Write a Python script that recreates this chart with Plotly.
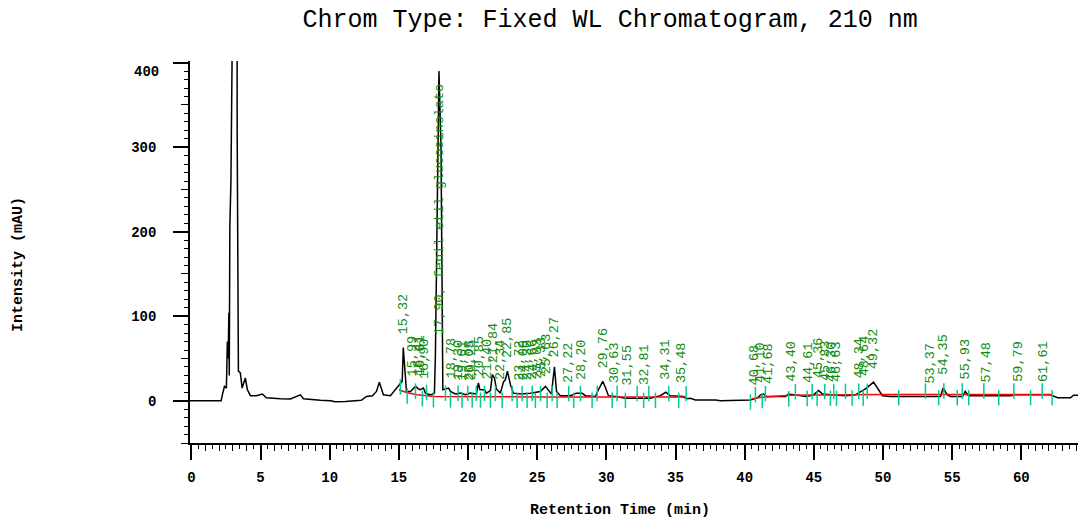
import numpy as np
import plotly.graph_objects as go

# ---------------- data ----------------
time_min = [-0.1, 2.15, 2.24, 2.39, 2.53, 2.60, 2.66, 2.71, 2.74, 2.78, 2.86, 2.90, 3.28, 3.31, 3.40,
            3.54, 3.67, 3.90, 4.05, 4.27, 4.70, 5.13, 5.42, 6.44, 7.16, 7.88, 8.10, 9.33, 10.05,
            10.41, 11.14, 12.29, 12.65, 13.09, 13.38, 13.59, 13.74, 13.88, 14.39, 15.00, 15.24,
            15.32, 15.47, 15.55, 15.84, 16.20, 16.41, 16.56, 16.78, 16.92, 17.28, 17.57, 17.64,
            17.77, 17.90, 18.05, 18.13, 18.18, 18.60, 18.73, 19.09, 19.45, 19.81, 20.17, 20.61,
            20.75, 20.86, 21.19, 21.33, 21.62, 21.76, 21.91, 22.05, 22.34, 22.56, 22.70, 22.85,
            23.07, 23.28, 23.79, 24.51, 25.23, 25.60, 25.81, 26.03, 26.25, 26.40, 26.68, 27.40,
            27.84, 28.25, 28.49, 29.21, 29.43, 29.74, 29.95, 30.15, 30.66, 31.38, 33.19, 33.90,
            34.30, 34.60, 35.57, 35.79, 36.08, 36.44, 37.89, 38.25, 40.42, 40.93, 41.15, 41.36,
            41.58, 42.95, 43.17, 44.03, 44.47, 44.98, 45.34, 45.63, 46.20, 47.29, 48.01, 48.52,
            48.81, 49.32, 49.67, 49.96, 50.54, 52.71, 54.16, 54.35, 54.66, 54.88, 55.75, 55.95,
            56.18, 59.22, 59.58, 60.30, 62.11, 62.62, 63.56, 63.78, 64.14]
intensity_mau = [0, 0, 7, 17, 15, 70, 50, 104, 30, 205, 260, 1000, 1000, 319, 35,
                 33, 15, 27, 13, 6, 6, 8, 3.5, 2.4, 2, 7, 2.4, 0.6, 0,
                 -1.2, -1, 0.6, 5, 6, 11, 22, 13, 7, 6, 19, 23,
                 63, 23, 11, 11, 17, 14, 13, 15, 9, 7, 9, 52,
                 238, 390, 297, 54, 13, 15, 11, 8, 9, 7, 9, 8,
                 21, 13, 13, 9, 12, 31, 27, 14, 9, 22, 25, 35,
                 19, 9, 8, 9, 11, 17, 13, 8, 40, 11, 6, 6,
                 9, 9, 6, 5, 13, 23, 15, 6, 5, 3, 3, 6,
                 10, 6, 5, 2.4, 3, 1, 1, 0, 1, 3.5, 7, 8,
                 5, 5, 8, 6, 5, 7, 12, 8, 7, 6, 7, 12,
                 15, 22, 13, 6, 5, 5, 5, 15, 7, 5, 5, 11,
                 6, 6, 7, 7, 7, 3.5, 3.5, 6.5, 6.5]

baseline_time = [15.0, 15.5, 16.3, 17.6, 25.0, 35.6, None, 40.55, 41.2, 43.3, 50.0, 62.2]
baseline_mau = [13, 10, 7, 5, 4.5, 4.5, None, 2.5, 4, 6.5, 7.5, 7.5]

event_times = [15.11, 15.60, 16.20, 16.70, 17.00, 17.50, 18.37, 18.73, 19.28, 19.57, 19.98,
               20.30, 20.60, 20.90, 21.19, 21.62, 21.98, 22.47, 23.19, 23.55, 23.91, 24.27,
               24.64, 24.87, 25.24, 25.72, 26.08, 26.44, 27.28, 27.64, 28.13, 28.97, 29.34,
               30.42, 30.78, 31.38, 32.23, 32.70, 33.07, 33.55, 34.51, 35.23, 35.77,
               40.42, 40.78, 41.27, 41.50, 43.19, 43.67, 44.52, 44.88, 45.24, 45.79, 46.20,
               46.44, 46.64, 47.29, 47.77, 48.25, 48.57, 48.86, 51.14, 53.07, 54.03, 54.40,
               55.37, 55.73, 56.20, 57.29, 58.37, 59.46, 60.67, 61.51, 62.23]

peak_times = [15.32, 15.99, 16.41, 16.61, 16.90, 17.90, 18.78, 19.30, 19.61, 20.05, 20.25,
              20.85, 21.40, 21.84, 22.34, 22.85, 23.72, 24.00, 24.30, 24.66, 25.03, 25.33,
              25.63, 26.27, 27.22, 28.20, 29.76, 30.63, 31.55, 32.81, 34.31, 35.48, 40.68,
              41.10, 41.68, 43.40, 44.61, 45.36, 45.83, 46.30, 46.63, 48.34, 48.64, 49.32,
              53.37, 54.35, 55.93, 57.48, 59.79, 61.61]
peak_labels = ["15,32", "15,99", "16,41", "16,61", "16,90", "17,90, fenil etil glucosinolato",
               "18,78", "19,30", "19,61", "20,05", "20,25", "20,85", "21,40", "21,84", "22,34",
               "22,85", "23,72", "24,00", "24,30", "24,66", "25,03", "25,33", "25,63", "26,27",
               "27,22", "28,20", "29,76", "30,63", "31,55", "32,81", "34,31", "35,48", "40,68",
               "41,10", "41,68", "43,40", "44,61", "45,36", "45,83", "46,30", "46,63", "48,34",
               "48,64", "49,32", "53,37", "54,35", "55,93", "57,48", "59,79", "61,61"]

y_tick_vals = [0, 100, 200, 300, 400]
x_tick_vals = [0, 5, 10, 15, 20, 25, 30, 35, 40, 45, 50, 55, 60]

# ---------------- figure ----------------
MONO = "Liberation Mono, Courier New, monospace"
X_RANGE = [-0.1, 64.1]
Y_RANGE = [-50, 402]

fig = go.Figure()

fig.add_trace(go.Scatter(x=time_min, y=intensity_mau, mode="lines",
                         line=dict(color="black", width=1.5), hoverinfo="skip",
                         showlegend=False))

fig.add_trace(go.Scatter(x=baseline_time, y=baseline_mau, mode="lines",
                         line=dict(color="#ff0000", width=1.5), connectgaps=False,
                         hoverinfo="skip", showlegend=False))

# integration event ticks sit on the drawn baseline, alternating slightly up / down
bt = np.array([t for t in baseline_time if t is not None], dtype=float)
bv = np.array([v for v in baseline_mau if v is not None], dtype=float)
ev = np.array(event_times, dtype=float)
ev_y = np.interp(ev, bt, bv) + np.where(np.arange(len(ev)) % 2 == 0, 4.0, -4.0)
fig.add_trace(go.Scatter(x=ev, y=ev_y, mode="markers",
                         marker=dict(symbol="line-ns-open", size=11,
                                     line=dict(color="#22c8dc", width=1.5)),
                         hoverinfo="skip", showlegend=False))

# peak labels: rotated, sitting just above the signal
tr_t = np.array(time_min, dtype=float)
tr_v = np.array(intensity_mau, dtype=float)
pk = np.array(peak_times, dtype=float)
label_base = np.minimum(np.interp(pk, tr_t, tr_v) + 13, 76)
for t, yb, txt in zip(pk, label_base, peak_labels):
    fig.add_annotation(x=t, y=yb, text=txt, textangle=-90, showarrow=False,
                       xanchor="center", yanchor="bottom",
                       font=dict(family=MONO, size=13.5, color="#118c11"))

# secondary axes only to draw the intermediate tick levels
fig.update_layout(
    xaxis=dict(range=X_RANGE, showgrid=False, zeroline=False, showline=True,
               linecolor="black", linewidth=1.5, ticks="outside", ticklen=15,
               tickwidth=1.5, tickcolor="black", tickvals=x_tick_vals,
               ticklabelstandoff=5,
               tickfont=dict(family=MONO, size=14, color="black", weight="bold"),
               minor=dict(dtick=0.5, tick0=0, ticks="outside", ticklen=4,
                          tickcolor="black", tickwidth=1.2),
               domain=[0, 1]),
    xaxis2=dict(range=X_RANGE, overlaying="x", side="bottom", showgrid=False,
                zeroline=False, showline=False, ticks="outside", ticklen=7,
                tickcolor="black", tickwidth=1.2, dtick=1, tick0=0,
                showticklabels=False, anchor="y"),
    yaxis=dict(range=Y_RANGE, showgrid=False, zeroline=False, showline=True,
               linecolor="black", linewidth=1.5, ticks="outside", ticklen=15,
               tickwidth=1.5, tickcolor="black", tickvals=y_tick_vals,
               ticktext=["0", "100", "200", "300", ""],
               ticklabelstandoff=14,
               tickfont=dict(family=MONO, size=14, color="black", weight="bold"),
               minor=dict(dtick=10, tick0=0, ticks="outside", ticklen=4,
                          tickcolor="black", tickwidth=1.2)),
    yaxis2=dict(range=Y_RANGE, overlaying="y", side="left", showgrid=False,
                zeroline=False, showline=False, ticks="outside", ticklen=8,
                tickcolor="black", tickwidth=1.2, dtick=50, tick0=0,
                showticklabels=False, anchor="x"),
)
# invisible trace that activates the secondary axes
fig.add_trace(go.Scatter(x=[X_RANGE[0]], y=[Y_RANGE[0]], xaxis="x2", yaxis="y2",
                         mode="markers", marker=dict(opacity=0), hoverinfo="skip",
                         showlegend=False))

# "400" label sits a little below its tick, as in the original
fig.add_annotation(xref="paper", x=0, xanchor="right", xshift=-29, y=389, yref="y",
                   text="400", showarrow=False,
                   font=dict(family=MONO, size=14, color="black", weight="bold"))

# axis titles
fig.add_annotation(xref="paper", yref="paper", x=0.5, y=0, xshift=-14, yshift=-67,
                   text="Retention Time (min)", showarrow=False,
                   xanchor="center", yanchor="middle",
                   font=dict(family=MONO, size=15, color="black", weight="bold"))
fig.add_annotation(xref="paper", yref="paper", x=0, y=0.5, xshift=-172, yshift=-13,
                   text="Intensity (mAU)", textangle=-90, showarrow=False,
                   xanchor="center", yanchor="middle",
                   font=dict(family=MONO, size=15, color="black", weight="bold"))

fig.update_layout(
    width=1078, height=519,
    margin=dict(l=190, r=0, t=61, b=76),
    paper_bgcolor="white", plot_bgcolor="white",
    title=dict(text="Chrom Type: Fixed WL Chromatogram, 210 nm",
               x=0.566, xanchor="center", y=1 - 18 / 519, yanchor="middle",
               font=dict(family=MONO, size=25, color="black")),
    showlegend=False,
)

fig.write_html("out.html")
